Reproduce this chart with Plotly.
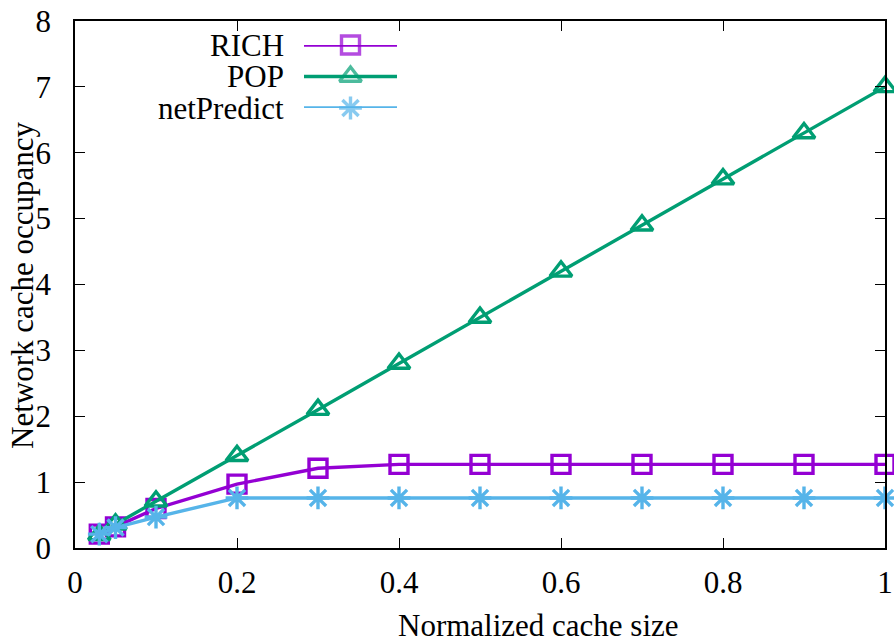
import plotly.graph_objects as go

x_vals = [0.03, 0.05, 0.1, 0.2, 0.3, 0.4, 0.5, 0.6, 0.7, 0.8, 0.9, 1.0]
rich = [0.21, 0.32, 0.60, 0.97, 1.21, 1.27, 1.27, 1.27, 1.27, 1.27, 1.27, 1.27]
pop = [0.20, 0.36, 0.71, 1.40, 2.10, 2.80, 3.50, 4.20, 4.90, 5.60, 6.30, 7.00]
netpredict = [0.21, 0.31, 0.47, 0.76, 0.76, 0.76, 0.76, 0.76, 0.76, 0.76, 0.76, 0.76]
series_names = ["RICH", "POP", "netPredict"]
x_ticks = [0, 0.2, 0.4, 0.6, 0.8, 1]
x_tick_labels = ["0", "0.2", "0.4", "0.6", "0.8", "1"]
y_ticks = [0, 1, 2, 3, 4, 5, 6, 7, 8]

colors = ["#9400D3", "#009E73", "#56B4E9"]
symbols = ["square-open", "triangle-up-open", "asterisk-open"]
sizes = [18, 19, 19]
FONT = "Liberation Serif"
FS = 31

W, H = 894, 644
ml, mr, mt, mb = 75, 9, 21, 96
pw = W - ml - mr
ph = H - mt - mb

def px_x(p):
    return (p - ml) / pw

def px_y(p):
    return (H - mb - p) / ph

fig = go.Figure()
for name, ys, c, s, sz in zip(series_names, [rich, pop, netpredict], colors, symbols, sizes):
    fig.add_trace(go.Scatter(
        x=x_vals, y=ys, mode="lines+markers", name=name, showlegend=False,
        line=dict(color=c, width=3.4),
        marker=dict(symbol=s, size=sz, color=c, line=dict(color=c, width=3.4)),
        cliponaxis=False,
    ))

# Legend samples (gnuplot-style: text left, sample right) on an auxiliary hidden axis
leg_rows = [2, 1, 0]
leg_y_px = [45, 76, 108]
for name, c, s, sz, row, ypx in zip(series_names, colors, symbols, sizes, leg_rows, leg_y_px):
    fig.add_trace(go.Scatter(
        x=[0, 0.5, 1], y=[row, row, row], mode="lines+markers", showlegend=False,
        xaxis="x2", yaxis="y2", hoverinfo="skip",
        line=dict(color=c, width=3.4),
        marker=dict(symbol=s, size=[0, sz, 0], color=c, line=dict(color=c, width=3.4)),
        cliponaxis=False,
    ))
    fig.add_annotation(x=px_x(286), y=px_y(ypx), xref="paper", yref="paper", text=name,
                       showarrow=False, xanchor="right", yanchor="middle", height=28,
                       font=dict(family=FONT, size=FS, color="black"))

# Axis titles
fig.add_annotation(x=px_x(538), y=px_y(625), xref="paper", yref="paper",
                   text="Normalized cache size", showarrow=False,
                   xanchor="center", yanchor="middle",
                   font=dict(family=FONT, size=FS, color="black"))
fig.add_annotation(x=px_x(22), y=px_y(285), xref="paper", yref="paper",
                   text="Network cache occupancy", showarrow=False, textangle=-90,
                   xanchor="center", yanchor="middle",
                   font=dict(family=FONT, size=FS, color="black"))

axis_common = dict(showgrid=False, zeroline=False, showline=True, linecolor="black",
                   linewidth=1.5, mirror="ticks", ticks="inside", ticklen=10,
                   tickcolor="black", tickwidth=1.2, automargin=False,
                   tickfont=dict(family=FONT, size=FS, color="black"))

fig.update_layout(
    width=W, height=H,
    margin=dict(l=ml, r=mr, t=mt, b=mb),
    plot_bgcolor="white", paper_bgcolor="white",
    xaxis=dict(range=[0, 1], tickvals=x_ticks, ticktext=x_tick_labels,
               ticklabelstandoff=6, **axis_common),
    yaxis=dict(range=[0, 8], tickvals=y_ticks, ticklabelstandoff=16, **axis_common),
    xaxis2=dict(domain=[px_x(304), px_x(397)], range=[0, 1], visible=False, anchor="y2"),
    yaxis2=dict(domain=[px_y(108), px_y(45)], range=[0, 2], visible=False, anchor="x2"),
    showlegend=False,
)

fig.write_html("out.html", config={"displayModeBar": False},
               post_script="document.body.style.margin='0';")
